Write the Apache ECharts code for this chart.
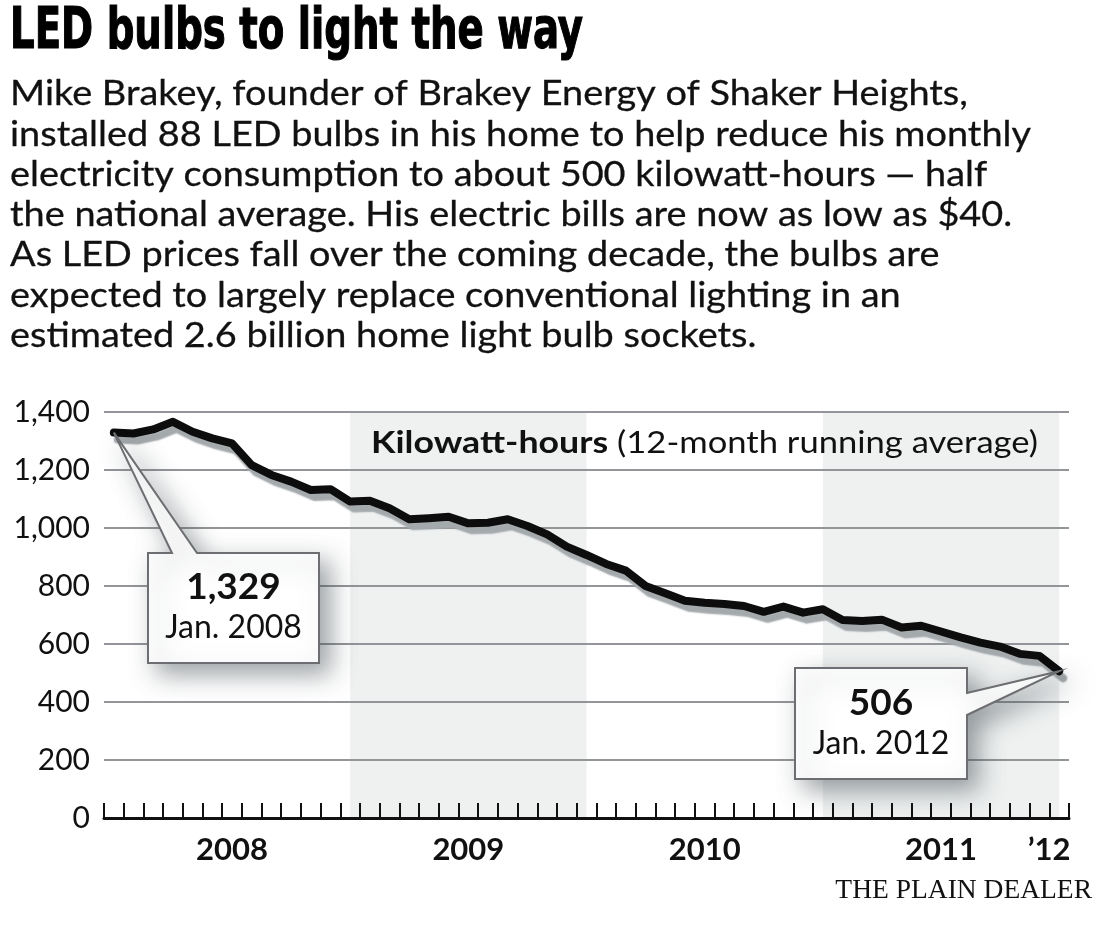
<!DOCTYPE html>
<html>
<head>
<meta charset="utf-8">
<script src="https://cdn.jsdelivr.net/npm/echarts@6/dist/echarts.min.js"></script>
<style>
html,body{margin:0;padding:0;background:#fff;}
#chart{width:1120px;height:932px;}
</style>
</head>
<body>
<div id="chart"></div>
<script>
// ---- data ----
const months = [
  'Jan 2008','Feb 2008','Mar 2008','Apr 2008','May 2008','Jun 2008','Jul 2008','Aug 2008','Sep 2008','Oct 2008','Nov 2008','Dec 2008',
  'Jan 2009','Feb 2009','Mar 2009','Apr 2009','May 2009','Jun 2009','Jul 2009','Aug 2009','Sep 2009','Oct 2009','Nov 2009','Dec 2009',
  'Jan 2010','Feb 2010','Mar 2010','Apr 2010','May 2010','Jun 2010','Jul 2010','Aug 2010','Sep 2010','Oct 2010','Nov 2010','Dec 2010',
  'Jan 2011','Feb 2011','Mar 2011','Apr 2011','May 2011','Jun 2011','Jul 2011','Aug 2011','Sep 2011','Oct 2011','Nov 2011','Dec 2011',
  'Jan 2012'
];
const kwh = [
  1329, 1326, 1340, 1366, 1332, 1309, 1292, 1217, 1183, 1160, 1131, 1134,
  1091, 1094, 1068, 1030, 1034, 1039, 1016, 1018, 1030, 1007, 978, 936,
  907, 876, 853, 800, 775, 749, 742, 738, 731, 711, 729, 708,
  720, 683, 679, 684, 657, 663, 643, 623, 605, 591, 566, 559,
  506
];
const yearTickLabels = ['2008', '2009', '2010', '2011', '\u201912'];
const yearTickCategories = ['Jul 2008', 'Jul 2009', 'Jul 2010', 'Jul 2011', 'Jan 2012'];
const shadedPeriods = [['Jan 2009', 'Jan 2010'], ['Jan 2011', 'Jan 2012']];
const yTicks = [0, 200, 400, 600, 800, 1000, 1200, 1400];
const titleText = 'LED bulbs to light the way';
const bodyLines = [
  'Mike Brakey, founder of Brakey Energy of Shaker Heights,',
  'installed 88 LED bulbs in his home to help reduce his monthly',
  'electricity consumption to about 500 kilowatt-hours \u2014 half',
  'the national average. His electric bills are now as low as $40.',
  'As LED prices fall over the coming decade, the bulbs are',
  'expected to largely replace conventional lighting in an',
  'estimated 2.6 billion home light bulb sockets.'
];
const unitBold = 'Kilowatt-hours';
const unitRest = '(12-month running average)';
const calloutStart = { category: 'Jan 2008', value: '1,329', label: 'Jan. 2008' };
const calloutEnd = { category: 'Jan 2012', value: '506', label: 'Jan. 2012' };
const credit = 'THE PLAIN DEALER';

// ---- layout helpers ----
const FONT = 'Lato, "Open Sans", sans-serif';
const mctx = document.createElement('canvas').getContext('2d');
function measure(font, text) { mctx.font = font; return mctx.measureText(text).width; }

const bodyFont = '35px ' + FONT;
const bodyScale = 1021 / measure(bodyFont, bodyLines[1]);
const titleFont = 'bold 57px "Liberation Sans Narrow", "DejaVu Sans Condensed", sans-serif';
const titleScale = 573 / measure(titleFont, titleText);
const unitBoldFont = 'bold 31px ' + FONT;
const unitRestFont = '30px ' + FONT;
const wB = measure(unitBoldFont, unitBold), wS = measure(unitRestFont, ' '), wR = measure(unitRestFont, unitRest);
const unitScale = 667 / (wB + wS + wR);

const chart = echarts.init(document.getElementById('chart'), null, { renderer: 'canvas' });

const labelIdx = yearTickCategories.map(c => months.indexOf(c));

chart.setOption({
  animation: false,
  backgroundColor: '#fff',
  grid: { left: 104, right: 51, top: 412, bottom: 114, containLabel: false, outerBoundsMode: 'none' },
  xAxis: {
    type: 'category',
    data: months,
    boundaryGap: true,
    axisLine: { show: true, lineStyle: { color: '#111', width: 3 } },
    axisTick: { show: true, inside: true, length: 15, interval: 0, alignWithLabel: false, lineStyle: { color: '#111', width: 2 } },
    axisLabel: {
      interval: (i) => labelIdx.indexOf(i) >= 0,
      formatter: (v, i) => {
        const k = yearTickCategories.indexOf(v);
        if (k < 0) return '';
        return k === yearTickLabels.length - 1 ? '{e|' + yearTickLabels[k] + '}' : yearTickLabels[k];
      },
      rich: { e: { fontFamily: FONT, fontWeight: 'bold', fontSize: 31, color: '#111', padding: [0, 20, 0, 0] } },
      fontFamily: FONT, fontWeight: 'bold', fontSize: 31, color: '#111', margin: 16
    },
    splitLine: { show: false }
  },
  yAxis: {
    type: 'value',
    min: yTicks[0], max: yTicks[yTicks.length - 1], interval: 200,
    axisLine: { show: false }, axisTick: { show: false },
    axisLabel: { formatter: v => v.toLocaleString('en-US'), fontFamily: FONT, fontSize: 30, color: '#111', margin: 14 },
    splitLine: { show: true, lineStyle: { color: '#939598', width: 2 } }
  },
  series: [
    {
      type: 'line', data: kwh, z: 3, showSymbol: false, silent: true,
      lineStyle: {
        color: '#0d0d0d', width: 8, cap: 'round', join: 'round',
        shadowColor: '#a4a9ac', shadowBlur: 1.5, shadowOffsetX: 4, shadowOffsetY: 7
      }
    }
  ]
});

// ---- annotations ----
const px = (cat, val) => chart.convertToPixel({ gridIndex: 0 }, [cat, val]);
const pStart = px(calloutStart.category, kwh[months.indexOf(calloutStart.category)]);
const pEnd = px(calloutEnd.category, kwh[months.indexOf(calloutEnd.category)]);
const yTop = chart.convertToPixel({ yAxisIndex: 0 }, yTicks[yTicks.length - 1]);
const yBot = chart.convertToPixel({ yAxisIndex: 0 }, yTicks[0]);

const bands = shadedPeriods.map(p => {
  const x0 = chart.convertToPixel({ xAxisIndex: 0 }, p[0]);
  const x1 = chart.convertToPixel({ xAxisIndex: 0 }, p[1]);
  return { type: 'rect', z: -10, silent: true,
    shape: { x: x0, y: yTop, width: x1 - x0, height: yBot - yTop },
    style: { fill: '#eff1f1' } };
});

const boxStyle = { fill: '#fff', stroke: '#6d6e71', lineWidth: 2, shadowBlur: 24, shadowOffsetX: 10, shadowOffsetY: 10, shadowColor: 'rgba(60,70,75,0.5)' };

const b1 = { l: 148, r: 319, t: 553, b: 663 };
const b2 = { l: 795, r: 967, t: 668, b: 779 };

const graphics = [
  ...bands,
  { type: 'text', x: 10, y: 33, scaleX: titleScale, z: 10,
    style: { text: titleText, font: titleFont, fill: '#000', stroke: '#000', lineWidth: 1.2, textAlign: 'left', textVerticalAlign: 'middle' } },
  ...bodyLines.map((t, i) => ({
    type: 'text', x: 10, y: 94 + i * 40.3, scaleX: bodyScale, z: 10,
    style: { text: t, font: bodyFont, fill: '#111', stroke: '#111', lineWidth: 0.3, textAlign: 'left', textVerticalAlign: 'middle' }
  })),
  { type: 'text', x: 371, y: 443, scaleX: unitScale, z: 10,
    style: { text: unitBold, font: unitBoldFont, fill: '#111', textAlign: 'left', textVerticalAlign: 'middle' } },
  { type: 'text', x: 371 + (wB + wS) * unitScale, y: 443, scaleX: unitScale, z: 10,
    style: { text: unitRest, font: unitRestFont, fill: '#111', textAlign: 'left', textVerticalAlign: 'middle' } },
  { type: 'polygon', z: 5,
    shape: { points: [pStart, [197, b1.t], [b1.r, b1.t], [b1.r, b1.b], [b1.l, b1.b], [b1.l, b1.t], [172, b1.t]] },
    style: boxStyle },
  { type: 'text', x: (b1.l + b1.r) / 2, y: 587, z: 6,
    style: { text: calloutStart.value, font: 'bold 37px ' + FONT, fill: '#111', textAlign: 'center', textVerticalAlign: 'middle' } },
  { type: 'text', x: (b1.l + b1.r) / 2, y: 628, z: 6,
    style: { text: calloutStart.label, font: '32px ' + FONT, fill: '#111', textAlign: 'center', textVerticalAlign: 'middle' } },
  { type: 'polygon', z: 5,
    shape: { points: [[b2.l, b2.t], [b2.r, b2.t], [b2.r, 693], pEnd, [b2.r, 715], [b2.r, b2.b], [b2.l, b2.b]] },
    style: boxStyle },
  { type: 'text', x: (b2.l + b2.r) / 2, y: 703, z: 6,
    style: { text: calloutEnd.value, font: 'bold 37px ' + FONT, fill: '#111', textAlign: 'center', textVerticalAlign: 'middle' } },
  { type: 'text', x: (b2.l + b2.r) / 2, y: 744, z: 6,
    style: { text: calloutEnd.label, font: '32px ' + FONT, fill: '#111', textAlign: 'center', textVerticalAlign: 'middle' } },
  { type: 'text', x: 1092, y: 891, z: 10,
    style: { text: credit, font: '27.5px "Liberation Serif", serif', fill: '#111', textAlign: 'right', textVerticalAlign: 'middle' } }
];

chart.setOption({ graphic: { elements: graphics } });
</script>
</body>
</html>
